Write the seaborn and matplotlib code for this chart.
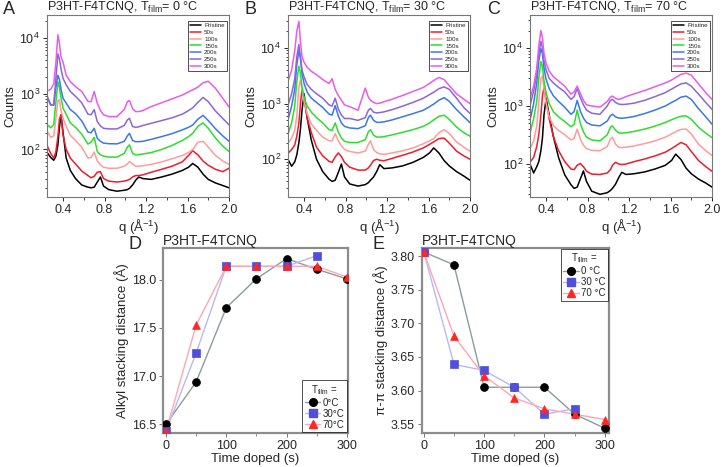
import numpy as np
import pandas as pd
import matplotlib
matplotlib.use("Agg")
import matplotlib.pyplot as plt
import seaborn as sns
from matplotlib.lines import Line2D
from matplotlib.ticker import MultipleLocator, FixedLocator, FormatStrFormatter

# ---------------- data: GIWAXS line cuts ----------------
q = [0.25, 0.28, 0.31, 0.33, 0.35, 0.365, 0.38, 0.40, 0.43, 0.47, 0.52, 0.58, 0.64, 0.67,
     0.70, 0.73, 0.76, 0.79, 0.84, 0.92, 0.99, 1.02, 1.04, 1.07, 1.10, 1.13, 1.17, 1.25,
     1.35, 1.45, 1.55, 1.61, 1.65, 1.70, 1.75, 1.80, 1.87, 1.94, 2.00]
times = ["Pristine", "50s", "100s", "150s", "200s", "250s", "300s"]
colors = ["#000000", "#ee1c2e", "#ff9c9c", "#2fdc2f", "#3a78e6", "#8a66dc", "#e85ce8"]

A_pristine = [86, 72, 64, 75, 120, 250, 420, 200, 70, 42, 30, 23, 21, 20.5, 21, 26, 32, 22, 19, 17.8,
              18.5, 19, 20, 23, 28, 32, 30, 29, 32, 36, 42, 48, 56, 48, 36, 29, 25, 22.5, 20.5]
A_50s = [113, 85, 70, 90, 170, 350, 420, 180, 100, 70, 55, 41, 34, 31, 33, 39, 40, 30, 27, 26,
         27, 28, 29, 32, 34, 34, 35, 39, 44, 50, 60, 78, 95, 80, 62, 52, 44, 40, 46]
A_100s = [210, 165, 175, 350, 750, 780, 500, 363, 260, 180, 145, 110, 70, 72, 90, 62, 53, 48, 46, 46,
          50, 55, 61, 55, 50, 50, 51, 54, 60, 68, 78, 88, 100, 135, 140, 110, 78, 62, 54]
A_150s = [276, 245, 280, 700, 1640, 1300, 850, 547, 430, 300, 250, 188, 125, 135, 165, 92, 80, 76, 73, 73,
          85, 110, 121, 85, 80, 81, 83, 88, 100, 118, 145, 170, 195, 260, 300, 240, 160, 115, 92]
A_200s = [825, 640, 620, 1300, 2150, 1800, 1200, 825, 680, 520, 440, 325, 205, 200, 240, 159, 140, 130, 127, 126,
          140, 175, 195, 145, 138, 138, 140, 152, 170, 192, 225, 250, 275, 350, 410, 330, 235, 175, 140]
A_250s = [885, 628, 650, 1800, 5200, 4200, 2800, 1880, 1450, 1100, 900, 690, 430, 420, 520, 316, 265, 240, 234, 234,
          270, 340, 363, 258, 250, 255, 270, 295, 330, 370, 430, 500, 560, 700, 860, 720, 490, 360, 277]
A_300s = [1130, 1200, 1500, 3500, 11500, 8000, 4600, 3700, 2150, 1650, 1350, 1100, 730, 720, 1100, 680, 500, 420, 390, 390,
          520, 720, 760, 540, 480, 480, 500, 590, 690, 810, 950, 1080, 1180, 1320, 1580, 1680, 1250, 830, 580]

B_pristine = [95, 75, 90, 120, 200, 350, 750, 1500, 550, 220, 100, 60, 44, 40, 42, 58, 82, 48, 36, 33,
              35, 38, 42, 48, 60, 80, 68, 70, 76, 88, 108, 130, 160, 130, 95, 76, 60, 50, 42]
B_50s = [130, 150, 180, 260, 450, 1000, 1800, 1200, 550, 300, 165, 115, 92, 88, 110, 130, 112, 88, 72, 64,
         64, 70, 78, 95, 100, 96, 94, 104, 118, 135, 160, 185, 205, 235, 240, 195, 140, 115, 100]
B_100s = [200, 240, 330, 600, 2000, 2600, 1800, 1100, 660, 430, 330, 250, 215, 215, 290, 215, 175, 150, 138, 130,
          140, 185, 215, 150, 132, 125, 123, 130, 142, 160, 190, 215, 235, 300, 340, 290, 205, 165, 140]
B_150s = [300, 450, 900, 2500, 4700, 3500, 2000, 1300, 900, 700, 560, 450, 340, 330, 450, 310, 240, 210, 200, 200,
          225, 310, 340, 270, 250, 250, 255, 275, 305, 340, 390, 450, 510, 590, 620, 520, 380, 300, 260]
B_200s = [550, 900, 1800, 5000, 9000, 6500, 3500, 2300, 1600, 1250, 1050, 850, 650, 620, 920, 600, 450, 390, 365, 355,
          400, 560, 620, 500, 460, 460, 470, 510, 580, 660, 760, 880, 980, 1150, 1280, 1100, 780, 580, 455]
B_250s = [1000, 1500, 2800, 7000, 11500, 7000, 4000, 3000, 2200, 1800, 1500, 1250, 950, 900, 1250, 800, 620, 540, 540, 500,
          560, 760, 820, 700, 680, 690, 710, 780, 900, 1050, 1250, 1450, 1600, 1850, 2000, 1800, 1250, 850, 665]
B_300s = [2700, 4000, 9000, 20000, 30000, 13000, 7000, 5500, 4500, 3800, 3300, 2700, 2300, 2800, 1800, 1400, 1150, 950, 880, 760,
          1900, 1300, 1150, 1050, 1000, 1020, 1080, 1200, 1400, 1650, 1950, 2300, 2600, 2950, 2700, 2100, 1500, 1200, 1000]

C_pristine = [95, 70, 90, 110, 170, 280, 700, 1350, 700, 300, 130, 65, 44, 38, 40, 55, 76, 50, 34, 30,
              32, 35, 38, 45, 58, 72, 66, 68, 73, 82, 95, 115, 148, 120, 85, 68, 55, 47, 40]
C_50s = [110, 130, 200, 320, 700, 1500, 2100, 1300, 600, 300, 170, 110, 82, 80, 95, 102, 90, 75, 67, 66,
         70, 80, 95, 107, 100, 98, 100, 110, 122, 138, 160, 185, 205, 235, 215, 165, 115, 90, 75]
C_100s = [190, 250, 450, 1200, 3000, 3300, 2000, 1100, 650, 460, 380, 320, 260, 275, 400, 270, 210, 185, 172, 170,
          200, 270, 290, 220, 195, 192, 195, 205, 225, 250, 290, 330, 360, 395, 400, 330, 220, 170, 140]
C_150s = [370, 600, 1200, 3000, 5800, 4800, 2700, 1700, 1100, 800, 650, 540, 440, 480, 850, 500, 360, 290, 260, 250,
          320, 430, 455, 380, 345, 340, 345, 365, 400, 450, 520, 580, 620, 665, 675, 590, 430, 340, 285]
C_200s = [620, 1100, 2500, 6000, 9800, 8000, 4500, 2900, 2000, 1500, 1200, 950, 720, 800, 1250, 820, 620, 520, 470, 455,
          550, 680, 720, 650, 620, 615, 625, 660, 740, 850, 1000, 1150, 1250, 1420, 1480, 1300, 900, 650, 485]
C_250s = [1100, 1800, 3500, 8000, 13000, 10000, 6000, 4200, 3000, 2500, 2100, 1750, 1300, 1450, 2000, 1400, 1050, 850, 750, 720,
          1000, 1250, 1300, 1150, 1080, 1060, 1070, 1120, 1250, 1450, 1700, 1950, 2150, 2400, 2500, 2200, 1600, 1150, 875]
C_300s = [1450, 2200, 4500, 11000, 20000, 15000, 8000, 5500, 4000, 3200, 2700, 2200, 1600, 1750, 2200, 1650, 1250, 1050, 1000, 960,
          1200, 1420, 1480, 1350, 1300, 1350, 1450, 1620, 1850, 2150, 2500, 2800, 3100, 3500, 3700, 3400, 2400, 1700, 1300]

# ---------------- data: stacking distances ----------------
time_doped = [0, 50, 100, 150, 200, 250, 300]
alkyl_0C = [16.50, 16.94, 17.71, 18.01, 18.22, 18.11, 18.01]
alkyl_30C = [16.43, 17.24, 18.14, 18.14, 18.14, 18.25, np.nan]
alkyl_70C = [16.43, 17.53, 18.14, 18.14, 18.14, 18.14, 18.03]
pipi_0C = [3.806, 3.787, 3.605, 3.605, 3.605, 3.565, 3.544]
pipi_30C = [3.806, 3.639, 3.630, 3.605, 3.565, 3.573, np.nan]
pipi_70C = [3.806, 3.681, 3.622, 3.589, 3.573, 3.565, 3.557]

# ---------------- style ----------------
sns.set_style("ticks")
plt.rcParams['font.family'] = ['Liberation Sans', 'DejaVu Sans']
plt.rcParams['mathtext.fontset'] = 'custom'
plt.rcParams['mathtext.rm'] = 'Liberation Sans'
plt.rcParams['mathtext.it'] = 'Liberation Sans:italic'
plt.rcParams['mathtext.sf'] = 'Liberation Sans'
plt.rcParams['axes.linewidth'] = 0.8

W, H = 722, 467
fig = plt.figure(figsize=(W / 100, H / 100), dpi=100)


def rect(l, t, r, b):
    return [l / W, 1 - b / H, (r - l) / W, (b - t) / H]


def top_panel(box, series, ylim, title, letter, lx):
    ax = fig.add_axes(rect(*box))
    df = pd.DataFrame({
        'q': np.tile(q, len(times)),
        'counts': np.concatenate([np.asarray(s, float) for s in series]),
        'time': np.repeat(times, len(q)),
    })
    sns.lineplot(data=df, x='q', y='counts', hue='time', hue_order=times, palette=colors,
                 ax=ax, linewidth=1.1, legend=False, estimator=None, sort=False)
    for ln in ax.get_lines():
        ln.set_solid_joinstyle('round')
    ax.set_yscale('log')
    ax.set_xlim(0.245, 2.0)
    ax.set_ylim(*ylim)
    ax.xaxis.set_major_locator(FixedLocator([0.4, 0.8, 1.2, 1.6, 2.0]))
    ax.xaxis.set_minor_locator(MultipleLocator(0.2))
    ax.xaxis.set_major_formatter(FormatStrFormatter('%.1f'))
    ax.tick_params(which='major', length=3, width=0.7, labelsize=9, direction='out', pad=2)
    ax.tick_params(which='minor', length=1.8, width=0.6, direction='out')
    for sp in ax.spines.values():
        sp.set_color('#777777')
        sp.set_linewidth(0.8)
    ax.set_xlabel(r"q ($\mathrm{\AA}^{-1}$)", fontsize=9.5, labelpad=1)
    ax.set_ylabel("Counts", fontsize=9.5, labelpad=2)
    ax.set_title(title, loc='left', fontsize=9, pad=2.5)
    handles = [Line2D([0], [0], color=c, lw=1.1) for c in colors]
    leg = ax.legend(handles, times, loc='upper right', bbox_to_anchor=(0.995, 0.975),
                    fontsize=4.5, frameon=True, fancybox=False, edgecolor='black',
                    borderpad=0.35, labelspacing=0.22, handlelength=1.7, handletextpad=0.5,
                    borderaxespad=0.2)
    leg.get_frame().set_linewidth(0.6)
    fig.text(lx / W, 1 - 1 / H, letter, fontsize=13, va='top', ha='left')
    return ax


top_panel((47, 15, 229, 197), [A_pristine, A_50s, A_100s, A_150s, A_200s, A_250s, A_300s],
          (14, 26000), r"P3HT-F4TCNQ, T$_{\mathrm{film}}$= 0 °C", "A", 3)
top_panel((288, 15, 470, 197), [B_pristine, B_50s, B_100s, B_150s, B_200s, B_250s, B_300s],
          (21, 39000), r"P3HT-F4TCNQ, T$_{\mathrm{film}}$= 30 °C", "B", 245)
top_panel((530, 15, 712, 197), [C_pristine, C_50s, C_100s, C_150s, C_200s, C_250s, C_300s],
          (27, 37000), r"P3HT-F4TCNQ, T$_{\mathrm{film}}$= 70 °C", "C", 487)

line_cols = ["#8a9c9c", "#b9b9f0", "#ffa6b4"]
mark_cols = ["#000000", "#4f4fdc", "#ff2626"]
marks = ["o", "s", "^"]


def bottom_panel(box, ys, ylim, xlim, ylabel, fmt, ystep, letter, lx, labels, loc, anchor):
    ax = fig.add_axes(rect(*box))
    for y, lc, mc, mk in zip(ys, line_cols, mark_cols, marks):
        d = pd.DataFrame({'t': time_doped, 'v': y}).dropna()
        sns.lineplot(data=d, x='t', y='v', color=lc, linewidth=1.0, ax=ax, estimator=None, sort=False)
        sns.scatterplot(data=d, x='t', y='v', color=mc, marker=mk, s=32, ax=ax,
                        edgecolor=mc, linewidth=0.5, zorder=3)
    ax.set_xlim(*xlim)
    ax.set_ylim(*ylim)
    ax.xaxis.set_major_locator(MultipleLocator(100))
    ax.xaxis.set_minor_locator(MultipleLocator(50))
    ax.yaxis.set_major_locator(MultipleLocator(ystep))
    ax.yaxis.set_major_formatter(FormatStrFormatter(fmt))
    ax.tick_params(which='major', length=3, width=0.7, labelsize=9, direction='out', pad=2,
                   color='#777777')
    ax.tick_params(which='minor', length=1.8, width=0.6, direction='out', color='#777777')
    for sp in ax.spines.values():
        sp.set_color('#8c8c8c')
        sp.set_linewidth(1.6)
    ax.set_xlabel("Time doped (s)", fontsize=9.5, labelpad=1)
    ax.set_ylabel(ylabel, fontsize=9.5, labelpad=2)
    ax.set_title("P3HT-F4TCNQ", loc='left', fontsize=10, pad=2)
    handles = [Line2D([0], [0], color=lc, marker=mk, markerfacecolor=mc, markeredgecolor=mc,
                      markersize=5.5, lw=1.0) for lc, mc, mk in zip(line_cols, mark_cols, marks)]
    leg = ax.legend(handles, labels, title=r"T$_{\mathrm{film}}$ =", loc=loc, bbox_to_anchor=anchor,
                    fontsize=7, title_fontsize=7, frameon=True, fancybox=False,
                    edgecolor='black', borderpad=0.25, labelspacing=0.1, handlelength=1.6,
                    handletextpad=0.25, borderaxespad=0.1)
    leg.get_frame().set_linewidth(0.6)
    fig.text(lx / W, 1 - 236 / H, letter, fontsize=13, va='top', ha='left')
    return ax


bottom_panel((163, 248, 348, 433), [alkyl_0C, alkyl_30C, alkyl_70C], (16.41, 18.33), (-5, 302),
             "Alkyl stacking distance (Å)", '%.1f', 0.5, "D", 128,
             ["0°C", "30°C", "70°C"], 'lower right', (1.0, 0.0))
bottom_panel((422, 248, 609, 433), [pipi_0C, pipi_30C, pipi_70C], (3.537, 3.812), (-3, 307),
             "π-π stacking distance (Å)", '%.2f', 0.05, "E", 372,
             ["0 °C", "30 °C", "70 °C"], 'upper right', (1.0, 1.0))

fig.savefig("out.png", dpi=100)
